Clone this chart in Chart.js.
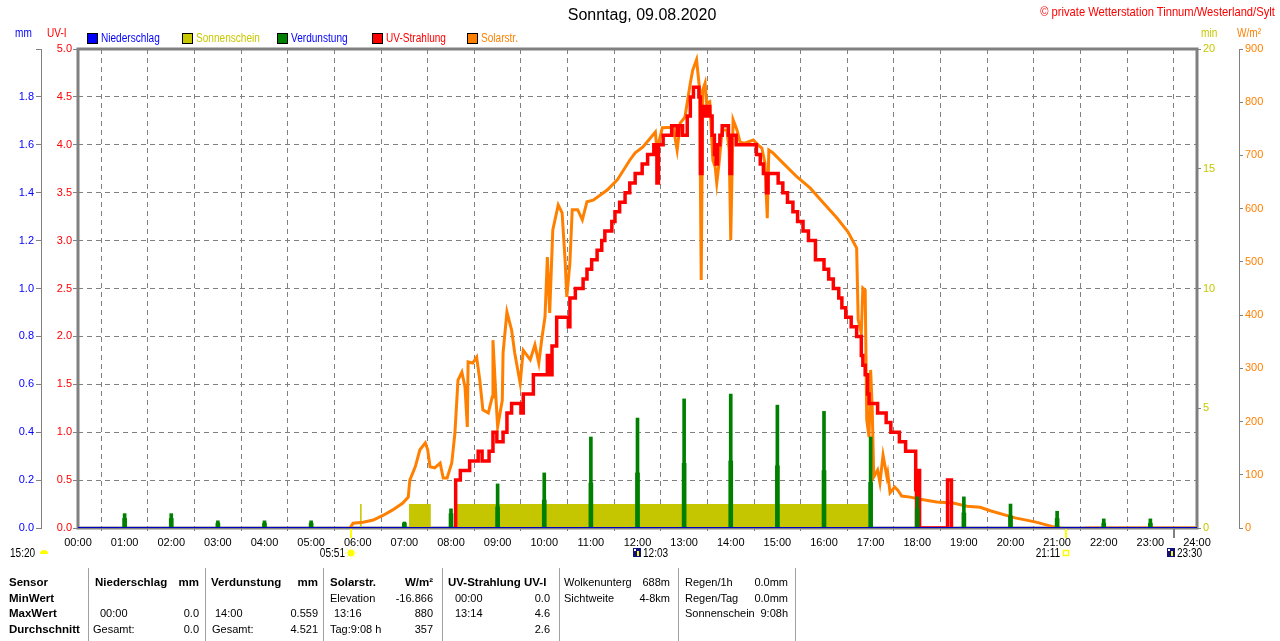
<!DOCTYPE html>
<html lang="de">
<head>
<meta charset="utf-8">
<title>Sonntag, 09.08.2020</title>
<script src="https://cdn.jsdelivr.net/npm/chart.js@4.4.1/dist/chart.umd.min.js"></script>
<style>
  html, body { margin: 0; padding: 0; background: #fff; }
  #wrap { position: relative; width: 1280px; height: 641px; overflow: hidden;
          font-family: 'Liberation Sans', Arial, sans-serif; font-size: 12px; }
  #wrap canvas { position: absolute; left: 0; top: 0; }
  .t { position: absolute; white-space: nowrap; line-height: 14px; }
  .n { transform: scaleX(0.84); transform-origin: left center; }
  .nr { transform: scaleX(0.84); transform-origin: right center; }
  .box { position: absolute; width: 9px; height: 9px; border: 1px solid #000; top: 33px; }
  .tab { font-size: 11px; }
  .b { font-weight: bold; font-size: 11.5px; }
  .r0 { top: 575px; } .r1 { top: 591px; } .r2 { top: 606px; } .r3 { top: 622px; }
  .sep { position: absolute; top: 568px; height: 73px; width: 1px; background: #a0a0a0; }
</style>
</head>
<body>
<div id="wrap">
  <canvas id="wetterCanvas" width="1280" height="641"></canvas>

  <div class="t" style="left:442px; width:400px; text-align:center; top:6px; font-size:16px; line-height:18px;">Sonntag, 09.08.2020</div>
  <div class="t nr" style="right:5px; top:5px; color:#ff0000; font-size:13px; transform:scaleX(0.86);">© private Wetterstation Tinnum/Westerland/Sylt</div>

  <div class="t n" style="left:15px; top:26px; color:#0000ff;">mm</div>
  <div class="t n" style="left:47px; top:26px; color:#ff0000;">UV-I</div>
  <div class="t n" style="left:1201px; top:26px; color:#c8c800;">min</div>
  <div class="t n" style="left:1237px; top:26px; color:#ff8000;">W/m²</div>

  <div class="box" style="left:87px; background:#0000ff;"></div>
  <div class="t n" style="left:101px; top:31px; color:#0000ff;">Niederschlag</div>
  <div class="box" style="left:182px; background:#c8c800;"></div>
  <div class="t n" style="left:196px; top:31px; color:#c8c800;">Sonnenschein</div>
  <div class="box" style="left:277px; background:#008000;"></div>
  <div class="t n" style="left:291px; top:31px; color:#0000ff;">Verdunstung</div>
  <div class="box" style="left:372px; background:#ff0000;"></div>
  <div class="t n" style="left:386px; top:31px; color:#ff0000;">UV-Strahlung</div>
  <div class="box" style="left:467px; background:#ff8000;"></div>
  <div class="t n" style="left:481px; top:31px; color:#ff8000;">Solarstr.</div>

  <!-- Tabelle unten -->
  <div class="t tab b r0" style="left:9px;">Sensor</div>
  <div class="t tab b r1" style="left:9px;">MinWert</div>
  <div class="t tab b r2" style="left:9px;">MaxWert</div>
  <div class="t tab b r3" style="left:9px;">Durchschnitt</div>
  <div class="sep" style="left:88px;"></div>

  <div class="t tab b r0" style="left:95px;">Niederschlag</div>
  <div class="t tab b r0" style="right:1081px;">mm</div>
  <div class="t tab r2" style="left:100px;">00:00</div>
  <div class="t tab r2" style="right:1081px;">0.0</div>
  <div class="t tab r3" style="left:93px;">Gesamt:</div>
  <div class="t tab r3" style="right:1081px;">0.0</div>
  <div class="sep" style="left:205px;"></div>

  <div class="t tab b r0" style="left:211px;">Verdunstung</div>
  <div class="t tab b r0" style="right:962px;">mm</div>
  <div class="t tab r2" style="left:215px;">14:00</div>
  <div class="t tab r2" style="right:962px;">0.559</div>
  <div class="t tab r3" style="left:212px;">Gesamt:</div>
  <div class="t tab r3" style="right:962px;">4.521</div>
  <div class="sep" style="left:323px;"></div>

  <div class="t tab b r0" style="left:330px;">Solarstr.</div>
  <div class="t tab b r0" style="right:847px;">W/m²</div>
  <div class="t tab r1" style="left:330px;">Elevation</div>
  <div class="t tab r1" style="right:847px;">-16.866</div>
  <div class="t tab r2" style="left:334px;">13:16</div>
  <div class="t tab r2" style="right:847px;">880</div>
  <div class="t tab r3" style="left:330px;">Tag:9:08 h</div>
  <div class="t tab r3" style="right:847px;">357</div>
  <div class="sep" style="left:442px;"></div>

  <div class="t tab b r0" style="left:448px;">UV-Strahlung UV-I</div>
  <div class="t tab r1" style="left:455px;">00:00</div>
  <div class="t tab r1" style="right:730px;">0.0</div>
  <div class="t tab r2" style="left:455px;">13:14</div>
  <div class="t tab r2" style="right:730px;">4.6</div>
  <div class="t tab r3" style="right:730px;">2.6</div>
  <div class="sep" style="left:559px;"></div>

  <div class="t tab r0" style="left:564px;">Wolkenunterg</div>
  <div class="t tab r0" style="right:610px;">688m</div>
  <div class="t tab r1" style="left:564px;">Sichtweite</div>
  <div class="t tab r1" style="right:610px;">4-8km</div>
  <div class="sep" style="left:678px;"></div>

  <div class="t tab r0" style="left:685px;">Regen/1h</div>
  <div class="t tab r0" style="right:492px;">0.0mm</div>
  <div class="t tab r1" style="left:685px;">Regen/Tag</div>
  <div class="t tab r1" style="right:492px;">0.0mm</div>
  <div class="t tab r2" style="left:685px;">Sonnenschein</div>
  <div class="t tab r2" style="right:492px;">9:08h</div>
  <div class="sep" style="left:795px;"></div>
</div>

<script>
// UV-Index (Treppenkurve), Zeitpunkt ab dem der Wert gilt
const uvZeit = ['08:04','08:06','08:12','08:24','08:35','08:40','08:49','08:54','08:59','09:07',
  '09:12','09:18','09:30','09:33','09:46','10:04','10:07','10:10','10:16','10:31',
  '10:33','10:40','10:50','10:55','11:01','11:08','11:14','11:18','11:27','11:31',
  '11:37','11:44','11:50','11:57','12:06','12:13','12:21','12:25','12:27','12:33',
  '12:44','12:51','12:53','12:58','13:04','13:08','13:12','13:19','13:21','13:23',
  '13:27','13:30','13:33','13:36','13:39','13:41','13:43','13:46','13:49','13:57',
  '13:59','14:01','14:07','14:33','14:38','14:42','14:46','14:48','15:01','15:07',
  '15:13','15:20','15:26','15:33','15:40','15:49','16:00','16:06','16:12','16:19',
  '16:23','16:28','16:35','16:42','16:48','16:50','16:53','16:56','16:58','17:09',
  '17:20','17:26','17:37','17:45','17:58','17:59','18:01','18:03','18:39','18:44','18:46'];
const uvWert = [0.0,0.5,0.6,0.7,0.8,0.7,0.8,1.0,0.9,1.0,
  1.2,1.3,1.2,1.4,1.6,1.8,1.6,1.9,2.2,2.1,
  2.4,2.5,2.6,2.7,2.8,2.9,3.0,3.1,3.2,3.3,
  3.4,3.5,3.6,3.7,3.8,3.9,4.0,3.6,4.0,4.1,
  4.2,4.1,4.2,4.1,4.3,4.5,4.6,4.5,3.7,4.4,
  4.3,4.4,4.3,4.1,3.9,3.8,4.0,4.1,4.2,4.1,
  3.7,4.1,4.0,3.9,3.8,3.7,3.5,3.7,3.6,3.5,
  3.4,3.3,3.2,3.1,3.0,2.8,2.7,2.6,2.5,2.4,
  2.3,2.2,2.1,2.0,1.8,1.7,1.6,1.4,1.3,1.2,
  1.1,1.0,0.9,0.8,0.4,0.0,0.6,0.0,0.5,0.0,0.0];

// Solarstrahlung W/m²
const solarZeit = ['05:50','05:54','06:07','06:20','06:33','06:45','06:58','07:05','07:07','07:14',
  '07:20','07:27','07:30','07:33','07:39','07:46','07:50','07:55','08:01','08:05',
  '08:09','08:14','08:18','08:21','08:22','08:28','08:33','08:37','08:41','08:48',
  '08:53','08:54','08:58','09:00','09:06','09:07','09:12','09:18','09:22','09:29',
  '09:33','09:42','09:48','09:53','09:57','10:01','10:04','10:07','10:11','10:18',
  '10:23','10:27','10:29','10:33','10:36','10:43','10:49','10:55','11:03','11:21',
  '11:34','11:50','11:57','12:07','12:23','12:25','12:32','12:46','12:51','12:55',
  '13:01','13:08','13:11','13:16','13:20','13:22','13:24','13:27','13:29','13:33',
  '13:37','13:40','13:42','13:45','13:49','13:55','13:58','14:00','14:03','14:08',
  '14:12','14:18','14:29','14:35','14:40','14:44','14:47','14:49','14:54','15:07',
  '15:25','15:42','15:59','16:17','16:31','16:42','16:44','16:48','16:50','16:53',
  '16:55','16:58','17:00','17:02','17:04','17:09','17:12','17:16','17:21','17:22',
  '17:25','17:31','17:35','17:40','17:51','18:04','18:25','18:46','19:04','19:21',
  '19:35','20:06','20:33','20:53','21:05','21:06','21:36','24:00'];
const solarWert = [0,9,11,15,24,34,47,58,90,115,
  147,160,147,115,113,122,94,94,122,178,
  278,293,265,190,312,310,321,278,222,216,
  246,353,240,190,240,329,406,372,329,272,
  334,316,344,310,357,397,509,404,560,607,
  592,498,434,498,598,598,579,613,616,635,
  654,691,705,716,744,710,752,753,710,761,
  772,836,860,880,823,466,823,836,798,801,
  691,678,648,686,748,748,710,541,767,748,
  725,723,729,720,714,686,582,710,705,686,
  660,639,611,582,556,526,391,366,451,447,
  203,171,297,227,96,109,85,137,96,103,
  66,77,71,60,58,54,49,47,41,39,
  32,19,11,3,0,null,0,0];

// Sonnenschein (min), Zeiträume mit Sonne
const sonneVon = ['06:03','07:06','08:05'];
const sonneBis = ['06:05','07:34','16:57'];
const sonneMin = [1, 1, 1];

// Verdunstung (mm) je Stunde, Spitze und Sockel
const verdunstStunde = [1,2,3,4,5,6,7,8,9,10,11,12,13,14,15,16,17,18,19,20,21,22,23];
const verdunstWert = [0.06,0.06,0.03,0.03,0.03,0.0,0.025,0.08,0.184,0.23,0.38,0.459,
  0.539,0.559,0.513,0.487,0.38,0.13,0.13,0.10,0.07,0.038,0.038];
const verdunstSockel = [0.04,0.04,0.02,0.02,0.02,0.0,0.02,0.06,0.088,0.117,0.188,0.23,
  0.27,0.28,0.26,0.24,0.19,0.08,0.063,0.05,0.04,0.02,0.02];

// Niederschlag (mm)
const niederschlagStunde = [0,1,2,3,4,5,6,7,8,9,10,11,12,13,14,15,16,17,18,19,20,21,22,23,24];
const niederschlagWert = [0,0,0,0,0,0,0,0,0,0,0,0,0,0,0,0,0,0,0,0,0,0,0,0,0];

// Sonne / Mond unter der Zeitachse
const ereignisZeit = ['05:51','12:03','21:11','23:30'];
const ereignisArt = ['aufgang','mond','untergang','mond'];
const mondVortag = '15:20';

const F = "'Liberation Sans', Arial, sans-serif";

function stunde(t) {
  const [a, b] = t.split(':');
  return +a + b / 60;
}

const uvPunkte = uvZeit.map((t, i) => ({ x: stunde(t), y: uvWert[i] }));
const solarPunkte = solarZeit.map((t, i) => ({ x: stunde(t), y: solarWert[i] }));
const sonnePunkte = [{ x: 0, y: 0 }];
sonneVon.forEach((t, i) => {
  sonnePunkte.push({ x: stunde(t), y: sonneMin[i] }, { x: stunde(sonneBis[i]), y: 0 });
});
sonnePunkte.push({ x: 24, y: 0 });
const verdunstPunkte = verdunstStunde.map((s, i) => ({ x: s, y: verdunstWert[i] }));
const sockelPunkte = verdunstStunde.map((s, i) => ({ x: s, y: verdunstSockel[i] }));
const niederschlagPunkte = niederschlagStunde.map((s, i) => ({ x: s, y: niederschlagWert[i] }));

function zeichneSymbol(ctx, art, x, y) {
  ctx.save();
  if (art === 'aufgang') {
    ctx.fillStyle = '#ffff00';
    ctx.beginPath(); ctx.arc(x, y, 3.5, 0, Math.PI * 2); ctx.fill();
    ctx.strokeStyle = '#ffff80'; ctx.lineWidth = 1;
    for (let k = 0; k < 8; k++) {
      const w = k * Math.PI / 4;
      ctx.beginPath();
      ctx.moveTo(x + Math.cos(w) * 4.5, y + Math.sin(w) * 4.5);
      ctx.lineTo(x + Math.cos(w) * 6, y + Math.sin(w) * 6);
      ctx.stroke();
    }
  } else if (art === 'untergang') {
    ctx.strokeStyle = '#ffff00'; ctx.lineWidth = 1.5;
    ctx.strokeRect(x - 2.5, y - 2.5, 5, 5);
  } else if (art === 'mond') {
    ctx.fillStyle = '#101080';
    ctx.fillRect(x - 4, y - 5, 8, 9);
    ctx.fillStyle = '#ffffff';
    ctx.fillRect(x - 3, y - 4, 2, 2);
    ctx.fillStyle = '#ffff00';
    ctx.fillRect(x, y - 2, 2, 5);
  } else {
    ctx.fillStyle = '#ffff00';
    ctx.beginPath(); ctx.arc(x, y + 1, 4, Math.PI, 0); ctx.fill();
  }
  ctx.restore();
}

const rahmenPlugin = {
  id: 'rahmen',
  beforeDatasetsDraw(chart) {
    const { ctx, chartArea: a } = chart;
    ctx.save();
    ctx.strokeStyle = '#808080';
    ctx.lineWidth = 3;
    ctx.strokeRect(a.left, a.top, a.right - a.left, a.bottom - a.top);
    ctx.restore();
  },
  afterDraw(chart) {
    const { ctx, chartArea: a } = chart;
    const xs = chart.scales.x;
    ereignisZeit.forEach((t, i) => {
      const px = Math.round(xs.getPixelForValue(stunde(t)));
      const art = ereignisArt[i];
      if (art !== 'mond' || i === 3) {
        ctx.save();
        ctx.fillStyle = art === 'mond' ? '#808080' : '#ffff00';
        ctx.fillRect(px - 1, a.bottom + 1, 2, 9);
        ctx.restore();
      }
      zeichneSymbol(ctx, art, art === 'mond' ? px - 3 : px, 553);
    });
    zeichneSymbol(ctx, 'vortag', 44, 553);
  }
};

const ctx = document.getElementById('wetterCanvas').getContext('2d');
const chart = new Chart(ctx, {
  type: 'line',
  data: {
    datasets: [
      {
        label: 'Sonnenschein', data: sonnePunkte, yAxisID: 'yMin',
        stepped: true, fill: 'origin', backgroundColor: '#c6c600',
        borderWidth: 0, pointRadius: 0, order: 6
      },
      {
        label: 'Solarstr.', data: solarPunkte, yAxisID: 'yW',
        borderColor: '#ff8000', borderWidth: 3, pointRadius: 0, spanGaps: false, order: 5
      },
      {
        label: 'UV-Strahlung', data: uvPunkte, yAxisID: 'yUv', stepped: true,
        borderColor: '#ff0000', borderWidth: 3.5, pointRadius: 0, order: 4
      },
      {
        type: 'bar', label: 'Verdunstung', data: verdunstPunkte, yAxisID: 'yMm',
        backgroundColor: '#008000', barThickness: 3, grouped: false, order: 3
      },
      {
        type: 'bar', label: 'Verdunstung Sockel', data: sockelPunkte, yAxisID: 'yMm',
        backgroundColor: '#008000', barThickness: 4, grouped: false, order: 3
      },
      {
        label: 'Niederschlag', data: niederschlagPunkte, yAxisID: 'yMm',
        borderColor: '#0000c0', borderWidth: 2, pointRadius: 0, order: 1
      }
    ]
  },
  options: {
    responsive: false,
    animation: false,
    devicePixelRatio: 1,
    layout: { padding: { top: 49, bottom: 88, left: 0, right: 0 } },
    plugins: { legend: { display: false }, tooltip: { enabled: false } },
    scales: {
      x: {
        type: 'linear', min: 0, max: 24, offset: false,
        ticks: {
          stepSize: 1, autoSkip: false, maxRotation: 0, color: '#000', padding: 5,
          font: { family: F, size: 11 },
          callback: v => String(v).padStart(2, '0') + ':00'
        },
        grid: { color: '#808080', lineWidth: 1, tickLength: 3, tickColor: '#808080', tickBorderDash: [] },
        border: { display: false, dash: [5, 4] },
        afterFit: s => { s.height = 25; }
      },
      yUv: {
        position: 'left', min: 0, max: 5, weight: 0,
        ticks: { stepSize: 0.5, color: '#ff0000', padding: 1, font: { family: F, size: 11 },
          callback: v => v.toFixed(1) },
        grid: { color: '#808080', tickColor: '#808080', tickLength: 5, tickBorderDash: [] },
        border: { display: false, dash: [5, 4] },
        afterFit: s => { s.width = 37; }
      },
      yMm: {
        position: 'left', min: 0, max: 2, weight: 1,
        ticks: { stepSize: 0.2, color: '#0000ff', padding: 2, font: { family: F, size: 11 },
          callback: v => (v >= 1.99 ? '' : v.toFixed(1)) },
        grid: { drawOnChartArea: false, tickColor: '#808080', tickLength: 5 },
        border: { display: true, color: '#808080', width: 1 },
        afterFit: s => { s.width = 41; }
      },
      yMin: {
        position: 'right', min: 0, max: 20, weight: 0,
        ticks: { stepSize: 5, color: '#c8c800', padding: 2, font: { family: F, size: 11 } },
        grid: { drawOnChartArea: false, tickColor: '#808080', tickLength: 4 },
        border: { display: false },
        afterFit: s => { s.width = 42; }
      },
      yW: {
        position: 'right', min: 0, max: 900, weight: 1,
        ticks: { stepSize: 100, color: '#ff8000', padding: 2, font: { family: F, size: 11 } },
        grid: { drawOnChartArea: false, tickColor: '#808080', tickLength: 4 },
        border: { display: true, color: '#808080', width: 1 },
        afterFit: s => { s.width = 41; }
      }
    }
  },
  plugins: [rahmenPlugin]
});

// Zeiten der Ereignisse als Text unter der Achse
const wrap = document.getElementById('wrap');
function zeitText(s, klasse, stil) {
  const d = document.createElement('div');
  d.className = 't ' + klasse;
  d.textContent = s;
  Object.assign(d.style, stil);
  wrap.appendChild(d);
}
ereignisZeit.forEach((t, i) => {
  const px = Math.round(chart.scales.x.getPixelForValue(stunde(t)));
  if (ereignisArt[i] === 'mond') {
    zeitText(t, 'n', { left: (px + 3) + 'px', top: '546px' });
  } else {
    zeitText(t, 'nr', { right: (1280 - px + 6) + 'px', top: '546px' });
  }
});
zeitText(mondVortag, 'n', { left: '10px', top: '546px' });
</script>
</body>
</html>
